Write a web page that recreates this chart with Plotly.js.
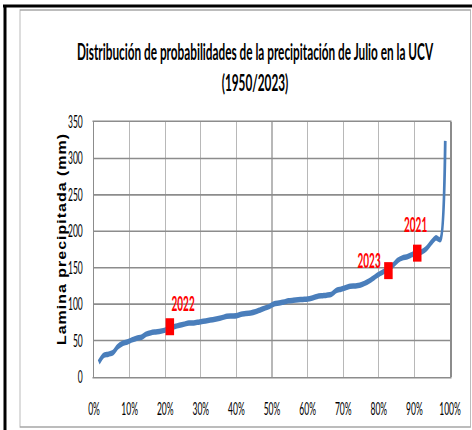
<!DOCTYPE html>
<html><head><meta charset="utf-8">
<script src="https://cdn.plot.ly/plotly-3.0.1.min.js"></script>
<style>
html,body{margin:0;padding:0;width:472px;height:430px;overflow:hidden;background:#fff;}
#wrap{width:472px;height:430px;overflow:hidden;position:relative;}
#chart{width:944px;height:430px;transform:scaleX(0.5);transform-origin:0 0;}
</style></head><body><div id="wrap"><div id="chart"></div></div>
<script>
// July precipitation at UCV, 1950-2023, sorted ascending (mm)
const precip = [20, 29.5, 31.3, 33.5, 41.5, 46, 48, 51, 53.3, 54.5,
  58.8, 60.8, 61.8, 62.7, 64.3, 67.5, 69.3, 71, 72.6, 74,
  74.2, 75.3, 76.5, 77.5, 78.7, 80, 81.5, 83.3, 83.7, 84,
  86.2, 87, 88, 89.6, 92, 94.5, 97, 100.5, 101.5, 103,
  104.5, 105.3, 106, 106.5, 107, 108.5, 110.5, 111.5, 112.3, 113.5,
  118.5, 120.5, 122.5, 124.5, 125, 126, 128.5, 132, 136.5, 141,
  144.5, 148.5, 153.5, 160, 163.5, 165, 168, 170.5, 171.5, 176,
  184, 191, 189, 324];
const years = ['2022', '2023', '2021'];
const yearProb = [0.213, 0.827, 0.908];
const yearPrecip = [69, 146, 170];
const yTicks = [0, 50, 100, 150, 200, 250, 300, 350];
const xTicks = [0, 0.1, 0.2, 0.3, 0.4, 0.5, 0.6, 0.7, 0.8, 0.9, 1];
const xTickText = ['0%', '10%', '20%', '30%', '40%', '50%', '60%', '70%', '80%', '90%', '100%'];

// Weibull plotting position (rank / (n + 1))
const n = precip.length;
const prob = precip.map((_, i) => (i + 1) / (n + 1));

const labelShift = [[26, 24], [-39, 11], [-4, 29]];

const data = [
  {x: prob, y: precip, type: 'scatter', mode: 'lines',
   line: {color: '#4a7ebb', width: 5.5, shape: 'spline', smoothing: 0.8},
   hoverinfo: 'skip', showlegend: false},
  {x: yearProb, y: yearPrecip, type: 'scatter', mode: 'markers',
   marker: {symbol: 'square', size: 17, color: '#ff0000'},
   hoverinfo: 'skip', showlegend: false}
];

const annotations = years.map((t, i) => ({
  x: yearProb[i], y: yearPrecip[i], xref: 'x', yref: 'y', text: t, showarrow: false,
  xshift: labelShift[i][0], yshift: labelShift[i][1],
  font: {family: 'Lato', size: 20, color: '#ff0000', weight: 'bold'}
}));

const W = 944, H = 430, L = 188, R = 900, T = 122, B = 377;
const px = u => (u - L) / (R - L);
const py = v => (B - v) / (B - T);

const shapes = [
  {type: 'rect', xref: 'paper', yref: 'paper', x0: px(40), x1: px(941), y0: py(427), y1: py(10),
   line: {color: '#a6a6a6', width: 1.5}, layer: 'below'},
  {type: 'line', xref: 'paper', yref: 'paper', x0: px(6), x1: px(1000), y0: py(6), y1: py(6),
   line: {color: '#000', width: 3}},
  {type: 'line', xref: 'paper', yref: 'paper', x0: px(10), x1: px(10), y0: py(5), y1: py(440),
   line: {color: '#000', width: 6}}
];

const layout = {
  width: W, height: H,
  margin: {l: L, r: W - R, t: T, b: H - B, pad: 0},
  paper_bgcolor: '#fff', plot_bgcolor: '#fff',
  title: {text: 'Distribución de probabilidades de la precipitación de Julio en la UCV<br>(1950/2023)',
    font: {family: 'Lato', size: 23.6, color: '#000', weight: 'bold'},
    x: 510 / W, xanchor: 'center', xref: 'container', y: 1 - 60 / H, yanchor: 'top', yref: 'container'},
  xaxis: {range: [0, 1], tickvals: xTicks, ticktext: xTickText, ticks: '',
    showgrid: true, gridcolor: '#b8b8b8', gridwidth: 2.5, zeroline: false,
    showline: true, mirror: true, linecolor: '#8c8c8c', linewidth: 1.6,
    ticklabelstandoff: 16,
    tickfont: {family: 'Lato', size: 17, color: '#000'}},
  yaxis: {range: [0, 350], tickvals: yTicks, ticks: '',
    showgrid: true, gridcolor: '#8c8c8c', gridwidth: 1.6, zeroline: false,
    showline: true, mirror: true, linecolor: '#8c8c8c', linewidth: 3,
    ticklabelstandoff: 16,
    tickfont: {family: 'Lato', size: 17, color: '#000'},
    title: {text: 'Lamina precipitada (mm)', standoff: 10,
      font: {family: 'Liberation Sans', size: 16, color: '#000', weight: 'bold'}}},
  shapes: shapes,
  annotations: annotations
};

Plotly.newPlot('chart', data, layout, {staticPlot: true, displayModeBar: false}).then(gd => {
  const t = gd.querySelector('.ytitle');
  if (!t) return;
  t.style.letterSpacing = '1px';
  const y = parseFloat(t.getAttribute('y'));
  const tr = t.getAttribute('transform') || '';
  const base = `${tr} translate(0,${y}) scale(1,1.55) translate(0,${-y})`;
  t.setAttribute('transform', base);
  const r = t.getBoundingClientRect();
  const cx = (r.left + r.right) / 2, cy = (r.top + r.bottom) / 2;
  const dx = (62 - cx) * 2, dy = 239 - cy;
  t.setAttribute('transform', `translate(${dx},${dy}) ${base}`);
});
</script></body></html>
